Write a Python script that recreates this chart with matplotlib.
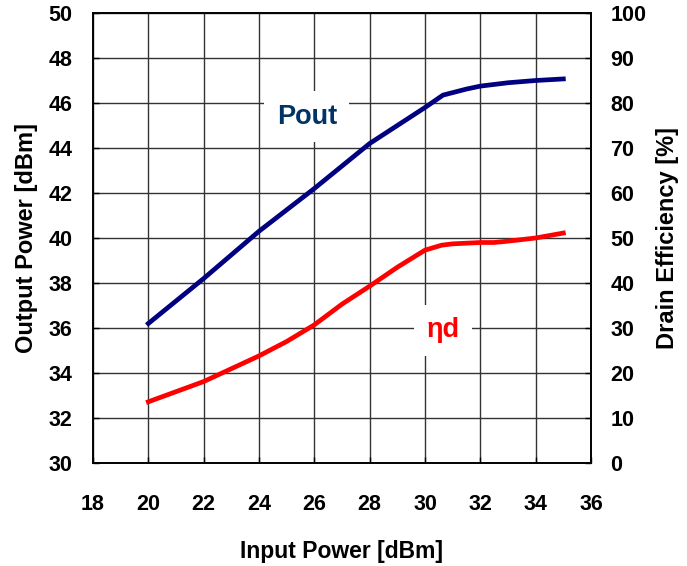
import matplotlib
matplotlib.use("Agg")
import matplotlib.pyplot as plt

plt.rcParams['font.family'] = ['Liberation Sans', 'DejaVu Sans']
plt.rcParams['font.weight'] = 'bold'

# input power sweep [dBm]
pin = [20, 22, 24, 26, 27, 28, 29, 30, 30.65, 31.5, 32, 33, 34, 35]
# output power [dBm]
pout = [36.2, 38.2, 40.3, 42.2, 43.2, 44.2, 45.0, 45.8, 46.35, 46.62, 46.75, 46.9, 47.0, 47.07]

pin_eff = [20, 22, 24, 25, 26, 27, 28, 29, 30, 30.6, 31, 32, 32.5, 33, 34, 35]
# drain efficiency [%]
eff = [13.6, 18.1, 23.8, 27.0, 30.7, 35.3, 39.3, 43.5, 47.3, 48.4, 48.7, 49.0, 49.0, 49.3, 50.0, 51.1]

fig = plt.figure(figsize=(6.87, 5.66), dpi=100)
ax = fig.add_axes([93/687, 103/566, 498/687, 450/566])
ax2 = ax.twinx()

ax.plot(pin, pout, color='#000080', lw=3.4, solid_joinstyle='round', zorder=3)
ax2.plot(pin_eff, eff, color='#ff0000', lw=3.4, solid_joinstyle='round', zorder=3)

ax.set_xlim(18, 36)
ax.set_ylim(30, 50)
ax2.set_ylim(0, 100)
ax.set_xticks(range(18, 37, 2))
ax.set_yticks(range(30, 51, 2))
ax2.set_yticks(range(0, 101, 10))

ax.grid(True, color='#333333', lw=1.0)
ax.set_axisbelow(True)

for a in (ax, ax2):
    a.tick_params(direction='in', length=4, labelsize=15.5, width=1)
    for s in a.spines.values():
        s.set_linewidth(1.2)
ax.tick_params(axis='x', pad=22)
ax.tick_params(axis='y', pad=15)
ax2.tick_params(axis='y', pad=14)

ax.set_xlabel('Input Power [dBm]', fontsize=16.5, fontweight='bold', labelpad=18)
ax.set_ylabel('Output Power [dBm]', fontsize=17, fontweight='bold', labelpad=7)
ax2.set_ylabel('Drain Efficiency [%]', fontsize=17, fontweight='bold', labelpad=7)

ax.text(25.73, 45.4, 'Pout', color='#003366', fontsize=19.5, fontweight='bold',
        ha='center', va='center', zorder=2.5,
        bbox=dict(facecolor='white', edgecolor='none', pad=9))
ax.text(30.65, 35.9, 'ηd', color='#ff0000', fontsize=19.5, fontweight='bold',
        ha='center', va='center', zorder=2.5,
        bbox=dict(facecolor='white', edgecolor='none', pad=9))

fig.savefig('out.png', dpi=100)
